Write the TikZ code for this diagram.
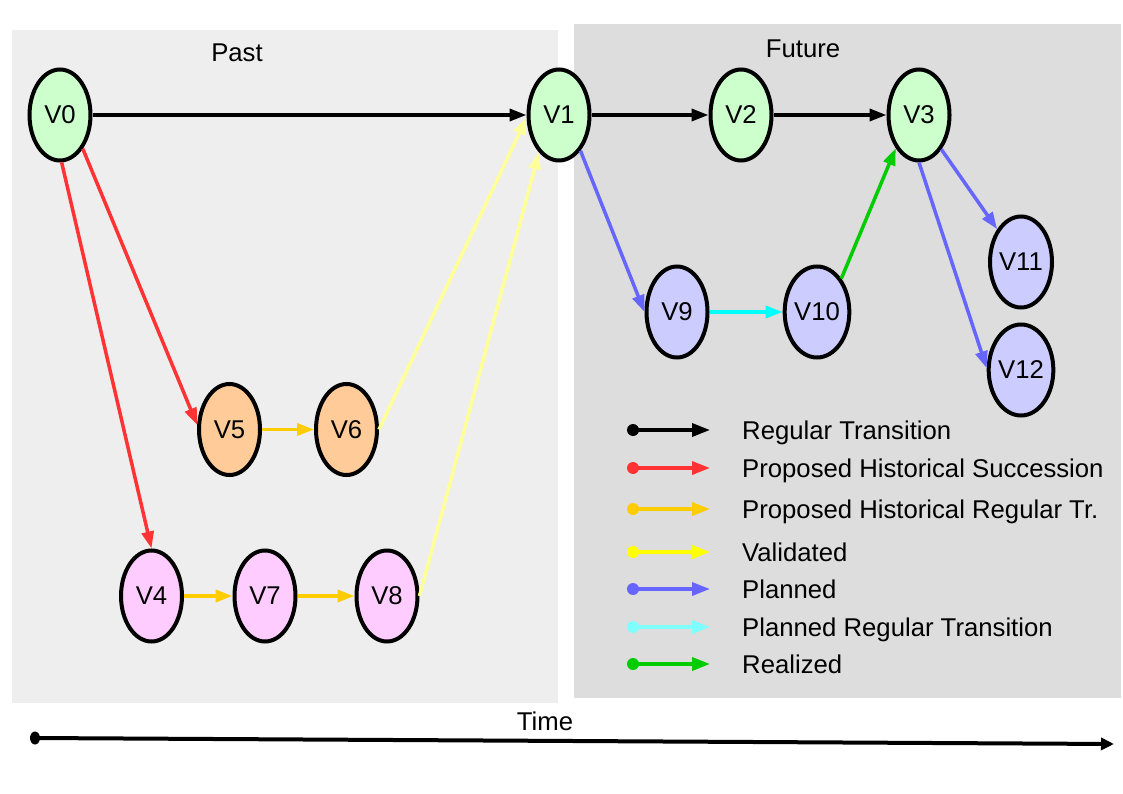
\documentclass[tikz,border=0pt]{standalone}
\usepackage{fontspec}
\setmainfont{Liberation Sans}
\usetikzlibrary{arrows.meta,shapes.geometric}
\definecolor{pastbg}{HTML}{EEEEEE}
\definecolor{futbg}{HTML}{DDDDDD}
\definecolor{ngreen}{HTML}{CCFFCC}
\definecolor{norange}{HTML}{FFCC99}
\definecolor{npink}{HTML}{FFCCFF}
\definecolor{nblue}{HTML}{CCCCFF}
\definecolor{ered}{HTML}{FF3333}
\definecolor{eorange}{HTML}{FFCC00}
\definecolor{eyellow}{HTML}{FFFF99}
\definecolor{lyellow}{HTML}{FFFF00}
\definecolor{eblue}{HTML}{6666FF}
\definecolor{ecyan}{HTML}{00FFFF}
\definecolor{lcyan}{HTML}{80FFFF}
\definecolor{egreen}{HTML}{00CC00}
\tikzset{
  big/.style={font=\fontsize{25.7}{30}\selectfont},
  vnode/.style={ellipse, draw=black, line width=4pt, minimum width=61pt, minimum height=91pt, inner sep=0pt, big},
  edge/.style={line width=3.5pt, -{Triangle[length=17pt,width=12pt]}},
  legline/.style={line width=3.5pt, -{Triangle[length=18pt,width=13pt]}},
  leglabel/.style={anchor=base west, big, inner sep=0pt},
}
\begin{document}
\begin{tikzpicture}[x=1pt,y=-1pt]
\useasboundingbox[fill=white] (0,0) rectangle (1123,794);
% backgrounds
\fill[pastbg] (12,30) rectangle (558,703);
\fill[futbg] (574,24) rectangle (1121,698);
\node[big] (past) at (237,53) {Past};
\node[big] (future) at (803,49) {Future};
% nodes
\node[vnode, fill=ngreen] (V0) at (60,115) {V0};
\node[vnode, fill=ngreen] (V1) at (559,115) {V1};
\node[vnode, fill=ngreen] (V2) at (741,115) {V2};
\node[vnode, fill=ngreen] (V3) at (919,115) {V3};
\node[vnode, fill=norange] (V5) at (229.5,429.5) {V5};
\node[vnode, fill=norange] (V6) at (346.5,429.5) {V6};
\node[vnode, fill=npink] (V4) at (151.5,596) {V4};
\node[vnode, fill=npink] (V7) at (265,596) {V7};
\node[vnode, fill=npink] (V8) at (387,596) {V8};
\node[vnode, fill=nblue] (V9) at (677,312) {V9};
\node[vnode, fill=nblue] (V10) at (817,312) {V10};
\node[vnode, fill=nblue] (V11) at (1021,262) {V11};
\node[vnode, fill=nblue] (V12) at (1021,370) {V12};
% edges
\draw[edge] (V0.east) -- (V1.west);
\draw[edge] (V1.east) -- (V2.west);
\draw[edge] (V2.east) -- (V3.west);
\draw[edge, ered] (V0.-56) -- (V5.172);
\draw[edge, ered] (V0.-88) -- (V4.north);
\draw[edge, eorange] (V5.east) -- (V6.west);
\draw[edge, eorange] (V4.east) -- (V7.west);
\draw[edge, eorange] (V7.east) -- (V8.west);
\draw[edge, eyellow] (V6.east) -- (V1.185);
\draw[edge, eyellow] (V8.east) -- (V1.-118);
\draw[edge, eblue] (V1.-59) -- (V9.west);
\draw[edge, ecyan] (V9.east) -- (V10.west);
\draw[edge, egreen] (V10.54) -- (V3.-125);
\draw[edge, eblue] (V3.-57) -- (V11.126);
\draw[edge, eblue] (V3.-90) -- (V12.177);
% legend
\foreach \y/\c/\t [count=\i] in {430/black/Regular Transition,
  468/ered/Proposed Historical Succession,
  509/eorange/Proposed Historical Regular Tr.,
  552/lyellow/Validated,
  589/eblue/Planned,
  627/lcyan/Planned Regular Transition,
  664/egreen/Realized}{
  \coordinate (ls\i) at (633,\y);
  \coordinate (le\i) at (710,\y);
  \draw[legline, \c] (ls\i) -- (le\i);
  \fill[\c] (ls\i) circle (6pt);
  \node[leglabel] (lt\i) at (742,\y+9.3) {\t};
}
% time axis
\node[big] (time) at (545,721) {Time};
\coordinate (t0) at (35,738);
\coordinate (t1) at (1114,744);
\draw[line width=4pt, -{Triangle[length=13pt,width=12pt]}] (t0) -- (t1);
\fill (t0) ellipse (5pt and 6.5pt);
\end{tikzpicture}
\end{document}
